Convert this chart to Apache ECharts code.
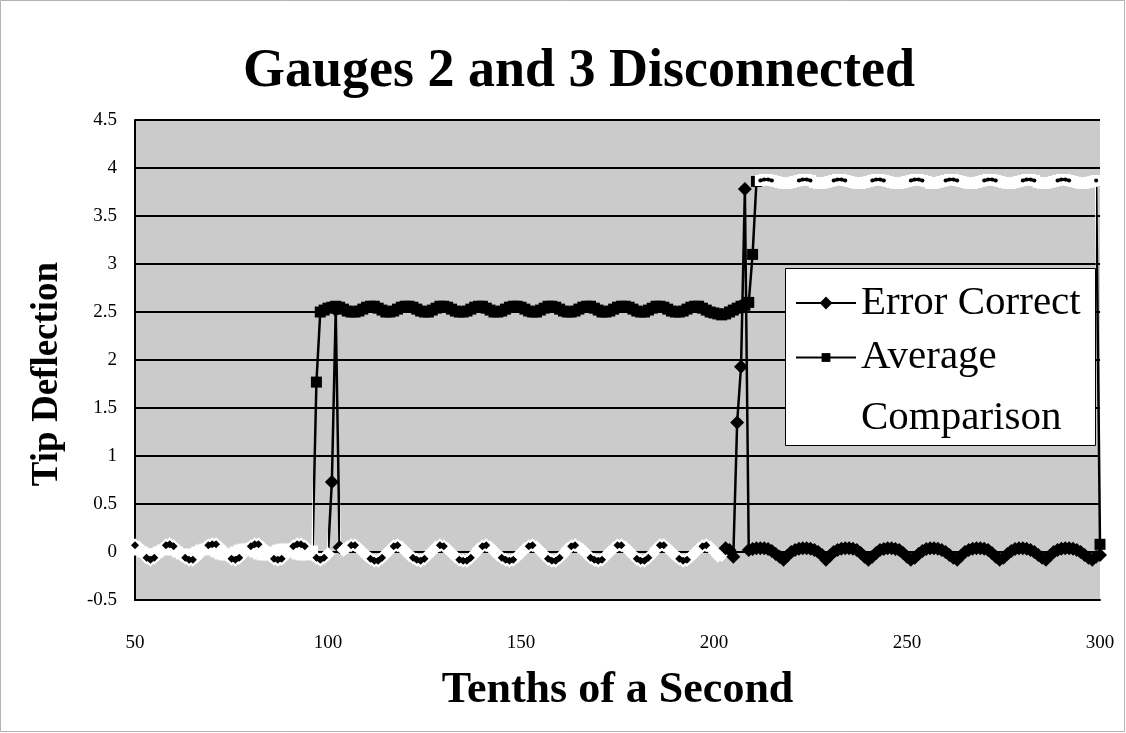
<!DOCTYPE html>
<html>
<head>
<meta charset="utf-8">
<title>Gauges 2 and 3 Disconnected</title>
<script src="https://cdn.jsdelivr.net/npm/echarts@6/dist/echarts.min.js"></script>
<style>
  html, body { margin: 0; padding: 0; background: #ffffff; }
  #chart { width: 1126px; height: 733px; }
</style>
</head>
<body>
<div id="chart"></div>
<script>
// Samples are one per tenth of a second, starting at tenth 50.
const firstTenth = 50;

// Tip deflection, "Error Correct" method (tenths 50 .. 300)
const errorCorrect = [
  0.07, 0.05, -0.01, -0.06, -0.08, -0.06, -0.02, 0.03, 0.07, 0.08,
  0.06, 0.02, -0.03, -0.06, -0.08, -0.08, -0.05, -0.01, 0.04, 0.07,
  0.08, 0.08, 0.05, 0.01, -0.04, -0.07, -0.08, -0.06, -0.02, 0.03,
  0.06, 0.08, 0.08, 0.05, 0.01, -0.04, -0.07, -0.08, -0.07, -0.03,
  0.02, 0.06, 0.08, 0.08, 0.06, 0.02, -0.03, -0.06, -0.08, -0.06,
  -0.02,
  0.73, 2.52, 0.05, 0.02, 0.05, 0.07, 0.07, 0.04, 0.00, -0.04,
  -0.07, -0.09, -0.09, -0.06, -0.02, 0.02, 0.06, 0.07, 0.05, 0.01,
  -0.03, -0.06, -0.08, -0.09, -0.07, -0.03, 0.01, 0.05, 0.07, 0.06,
  0.03, -0.01, -0.05, -0.08, -0.09, -0.09, -0.06, -0.02, 0.03, 0.06,
  0.07, 0.05, 0.01, -0.03, -0.06, -0.08, -0.09, -0.08, -0.05, -0.01,
  0.03, 0.06, 0.07, 0.05, 0.01, -0.03, -0.07, -0.09, -0.09, -0.06,
  -0.02, 0.03, 0.06, 0.07, 0.05, 0.02, -0.02, -0.06, -0.08, -0.09,
  -0.08, -0.04, 0.00, 0.04, 0.07, 0.07, 0.05, 0.01, -0.03, -0.07,
  -0.09, -0.09, -0.06, -0.02, 0.03, 0.07, 0.07, 0.04, 0.00, -0.04,
  -0.07, -0.09, -0.08, -0.05, -0.01, 0.03, 0.06, 0.07, 0.05, 0.01,
  -0.04, -0.03, 0.04, 0.02, -0.05, 1.35, 1.93, 3.78, 0.02, 0.03,
  0.04, 0.04, 0.04, 0.03, 0.01, -0.02, -0.05, -0.08, -0.04, 0.00,
  0.02, 0.035, 0.04, 0.04, 0.035, 0.02, 0.00, -0.03, -0.08, -0.04,
  0.00, 0.02, 0.035, 0.04, 0.04, 0.035, 0.02, -0.01, -0.05, -0.08,
  -0.05, -0.01, 0.02, 0.03, 0.04, 0.04, 0.03, 0.02, -0.01, -0.05,
  -0.08, -0.06, -0.02, 0.01, 0.03, 0.04, 0.04, 0.035, 0.02, 0.00,
  -0.03, -0.06, -0.08, -0.04, 0.00, 0.02, 0.035, 0.04, 0.04, 0.035,
  0.02, -0.01, -0.05, -0.08, -0.06, -0.02, 0.01, 0.03, 0.04, 0.04,
  0.035, 0.02, 0.00, -0.03, -0.06, -0.08, -0.04, 0.00, 0.02, 0.035,
  0.04, 0.04, 0.035, 0.02, 0.00, -0.03, -0.06, -0.08, -0.05, -0.03
];

// Tip deflection, "Average Comparison" method (tenths 50 .. 300)
const averageComparison = [
  0.03, 0.02, 0.00, -0.02, -0.03, -0.02, 0.00, 0.02, 0.03, 0.03,
  0.02, 0.00, -0.02, -0.03, -0.03, -0.02, 0.00, 0.02, 0.03, 0.03,
  0.02, 0.00, -0.02, -0.03, -0.03, -0.02, 0.00, 0.02, 0.03, 0.03,
  0.02, 0.00, -0.02, -0.03, -0.03, -0.02, 0.00, 0.02, 0.03, 0.03,
  0.02, 0.00, -0.02, -0.03, -0.03, -0.01, 0.01, 1.77, 2.50, 2.52,
  2.54, 2.55, 2.56, 2.55, 2.53, 2.51, 2.50, 2.50, 2.51, 2.53,
  2.55, 2.56, 2.56, 2.54, 2.52, 2.50, 2.50, 2.51, 2.53, 2.55,
  2.56, 2.56, 2.55, 2.53, 2.51, 2.50, 2.50, 2.52, 2.54, 2.56,
  2.56, 2.55, 2.53, 2.51, 2.50, 2.50, 2.51, 2.53, 2.55, 2.56,
  2.56, 2.54, 2.52, 2.50, 2.50, 2.51, 2.53, 2.55, 2.56, 2.56,
  2.55, 2.53, 2.51, 2.50, 2.50, 2.52, 2.54, 2.56, 2.56, 2.55,
  2.53, 2.51, 2.50, 2.50, 2.51, 2.53, 2.55, 2.56, 2.56, 2.54,
  2.52, 2.50, 2.50, 2.51, 2.53, 2.55, 2.56, 2.56, 2.55, 2.53,
  2.51, 2.50, 2.50, 2.52, 2.54, 2.56, 2.56, 2.55, 2.53, 2.51,
  2.50, 2.50, 2.51, 2.53, 2.55, 2.56, 2.56, 2.54, 2.52, 2.50,
  2.49, 2.48, 2.47, 2.48, 2.50, 2.52, 2.54, 2.56, 2.57, 2.60,
  3.10, 3.86, 3.87, 3.88, 3.88, 3.87, 3.86, 3.85, 3.84, 3.84,
  3.85, 3.86, 3.87, 3.88, 3.88, 3.87, 3.85, 3.84, 3.84, 3.85,
  3.86, 3.87, 3.88, 3.88, 3.87, 3.86, 3.85, 3.84, 3.84, 3.85,
  3.86, 3.87, 3.88, 3.88, 3.87, 3.86, 3.85, 3.84, 3.84, 3.85,
  3.86, 3.87, 3.88, 3.88, 3.87, 3.86, 3.84, 3.84, 3.85, 3.86,
  3.87, 3.88, 3.88, 3.87, 3.86, 3.85, 3.84, 3.84, 3.85, 3.86,
  3.87, 3.88, 3.88, 3.87, 3.86, 3.85, 3.84, 3.84, 3.85, 3.86,
  3.87, 3.88, 3.88, 3.87, 3.85, 3.84, 3.84, 3.85, 3.86, 3.87,
  3.88, 3.88, 3.87, 3.86, 3.85, 3.84, 3.84, 3.85, 3.86, 3.87,
  0.08
];

const seriesNames = ['Error Correct', 'Average Comparison'];
const xTicks = [50, 100, 150, 200, 250, 300];
const yTicks = [-0.5, 0, 0.5, 1, 1.5, 2, 2.5, 3, 3.5, 4, 4.5];

// Stretches (in tenths) where each trace prints solid black; elsewhere it prints pale.
const ecSolid = [[100.05, 103], [202.5, 1e9]];
const acSolid = [[96.05, 211.5], [299.02, 1e9]];

const INK = '#000000';
const PALE = '#ffffff';
const FIELD = '#cbcbcb';
const SERIF = "'Liberation Serif', 'Times New Roman', serif";

const toPoints = vals => vals.map((v, i) => [firstTenth + i, v]);
const isSolid = (x, spans) => spans.some(([a, b]) => x >= a && x <= b);

function paleSpans(spans) {
  const out = [];
  let prev = null;
  spans.forEach(([a, b]) => {
    out.push(prev === null ? { lt: a, color: PALE } : { gt: prev, lt: a, color: PALE });
    out.push({ gte: a, lte: b, color: INK });
    prev = b;
  });
  return out;
}

// Dark specks left where a pale trace reaches the crest of its ripple
const ecSpecks = toPoints(errorCorrect).map(([x, v]) =>
  (!isSolid(x, ecSolid) && Math.abs(v) >= 0.06) ? [x, v] : [x, '-']);
const acSpecks = toPoints(averageComparison).map(([x, v]) =>
  (!isSolid(x, acSolid) && v >= 3.865) ? [x, v] : [x, '-']);

const chart = echarts.init(document.getElementById('chart'), null, { renderer: 'canvas' });

const legendText = { fontFamily: SERIF, fontSize: 41, color: INK };

chart.setOption({
  animation: false,
  backgroundColor: '#ffffff',
  title: {
    text: 'Gauges 2 and 3 Disconnected',
    left: 243,
    top: 42,
    padding: 0,
    textStyle: { fontFamily: SERIF, fontWeight: 'bold', fontSize: 54, lineHeight: 60, color: INK }
  },
  grid: {
    left: 135, right: 26, top: 120, bottom: 133,
    show: true, backgroundColor: FIELD, borderWidth: 0
  },
  xAxis: {
    type: 'value',
    min: xTicks[0], max: xTicks[xTicks.length - 1], interval: xTicks[1] - xTicks[0],
    name: 'Tenths of a Second',
    nameLocation: 'middle',
    nameGap: 66,
    nameTextStyle: { fontFamily: SERIF, fontWeight: 'bold', fontSize: 44, lineHeight: 50, color: INK },
    axisLine: { onZero: false, lineStyle: { color: INK, width: 2 } },
    axisTick: { show: false },
    splitLine: { show: false },
    axisLabel: { color: INK, fontFamily: SERIF, fontSize: 19, margin: 34 }
  },
  yAxis: {
    type: 'value',
    min: yTicks[0], max: yTicks[yTicks.length - 1], interval: yTicks[1] - yTicks[0],
    name: 'Tip Deflection',
    nameLocation: 'middle',
    nameGap: 66,
    nameTextStyle: { fontFamily: SERIF, fontWeight: 'bold', fontSize: 37, lineHeight: 44, color: INK, padding: [0, 28, 0, 0] },
    axisLine: { show: true, lineStyle: { color: INK, width: 2 } },
    axisTick: { show: false },
    splitLine: { show: true, lineStyle: { color: INK, width: 2 } },
    axisLabel: { color: INK, fontFamily: SERIF, fontSize: 19, margin: 18 }
  },
  visualMap: [
    { type: 'piecewise', show: false, dimension: 0, seriesIndex: 0, pieces: paleSpans(ecSolid) },
    { type: 'piecewise', show: false, dimension: 0, seriesIndex: 1, pieces: paleSpans(acSolid) }
  ],
  graphic: {
    elements: [
      {
        // chart area frame
        type: 'rect',
        z: 0,
        silent: true,
        shape: { x: 0.5, y: 0.5, width: 1124, height: 731 },
        style: { fill: null, stroke: '#b4b4b4', lineWidth: 1 }
      },
      {
        // legend box
        type: 'rect',
        z: 10,
        shape: { x: 785.5, y: 268.5, width: 310, height: 177 },
        style: { fill: '#ffffff', stroke: INK, lineWidth: 1 }
      }
    ]
  },
  legend: [
    {
      data: [seriesNames[0]],
      orient: 'vertical',
      left: 795, top: 274,
      padding: 0,
      z: 20,
      itemWidth: 60, itemHeight: 16,
      itemStyle: { color: INK, borderWidth: 0 },
      lineStyle: { color: INK, width: 2 },
      textStyle: Object.assign({ lineHeight: 58 }, legendText),
      selectedMode: false
    },
    {
      data: [seriesNames[1]],
      orient: 'vertical',
      left: 795, top: 266,
      padding: 0,
      z: 20,
      itemWidth: 60, itemHeight: 11,
      itemStyle: { color: INK, borderWidth: 0 },
      lineStyle: { color: INK, width: 2 },
      // empty first line keeps the marker level with "Average"
      formatter: name => '\n' + name.replace(' ', '\n'),
      textStyle: Object.assign({ lineHeight: 61 }, legendText),
      selectedMode: false
    }
  ],
  series: [
    {
      name: seriesNames[0],
      type: 'line',
      data: toPoints(errorCorrect),
      symbol: 'diamond',
      symbolSize: 14,
      showAllSymbol: true,
      lineStyle: { width: 2.5 },
      z: 2
    },
    {
      name: seriesNames[1],
      type: 'line',
      data: toPoints(averageComparison),
      symbol: 'rect',
      symbolSize: 11,
      showAllSymbol: true,
      lineStyle: { width: 2.5 },
      z: 3
    },
    {
      name: seriesNames[0],
      type: 'line',
      data: ecSpecks,
      symbol: 'diamond',
      symbolSize: 8,
      showAllSymbol: true,
      itemStyle: { color: INK },
      lineStyle: { color: INK, width: 5 },
      z: 4,
      silent: true
    },
    {
      name: seriesNames[1],
      type: 'line',
      data: acSpecks,
      symbol: 'circle',
      symbolSize: 4,
      showAllSymbol: true,
      itemStyle: { color: INK },
      lineStyle: { color: INK, width: 3 },
      z: 4,
      silent: true
    }
  ]
});
</script>
</body>
</html>
